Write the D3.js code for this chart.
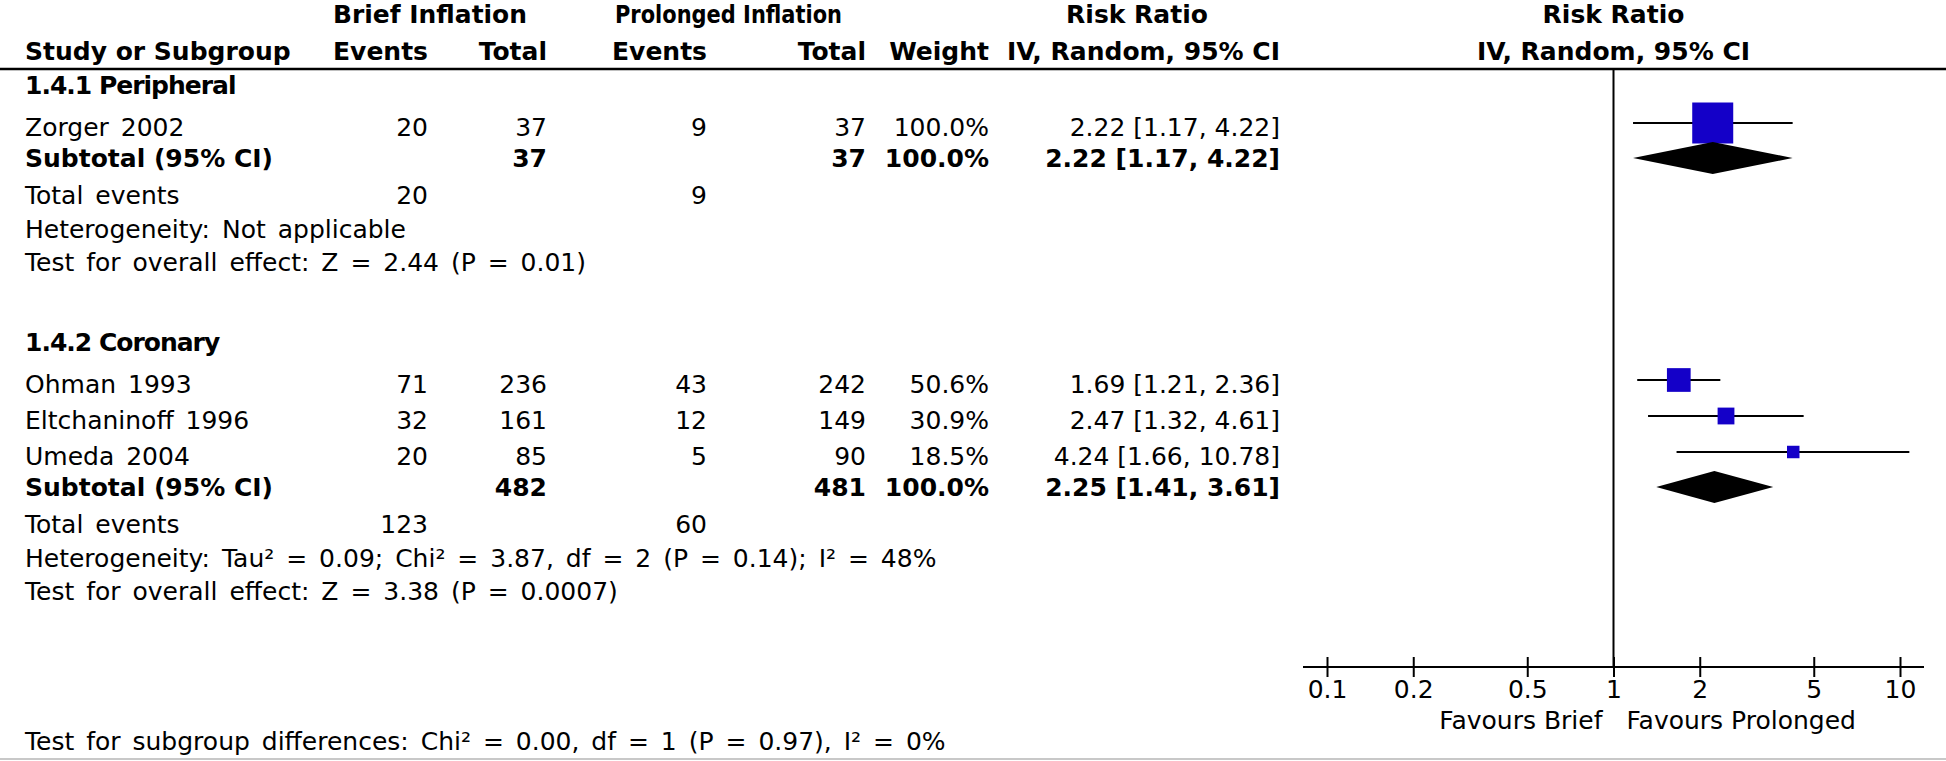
<!DOCTYPE html>
<html>
<head>
<meta charset="utf-8">
<script src="https://cdn.jsdelivr.net/npm/d3@7"></script>
<style>
  body { margin: 0; background: #fff; }
  svg text { font-family: "DejaVu Sans", sans-serif; font-size: 25px; fill: #000; }
  svg text.b { font-weight: bold; }
  svg text.w { word-spacing: 4px; }
</style>
</head>
<body>
<svg id="chart" width="1946" height="761"></svg>
<script>
// studies
const studyNames = ['Zorger 2002', 'Ohman 1993', 'Eltchaninoff 1996', 'Umeda 2004'];
const studyGroup = [0, 1, 1, 1];
const briefEvents = [20, 71, 32, 20];
const briefTotal = [37, 236, 161, 85];
const prolEvents = [9, 43, 12, 5];
const prolTotal = [37, 242, 149, 90];
const weights = [100.0, 50.6, 30.9, 18.5];
const rr = [2.22, 1.69, 2.47, 4.24];
const rrLow = [1.17, 1.21, 1.32, 1.66];
const rrHigh = [4.22, 2.36, 4.61, 10.78];

// subgroups
const groupNames = ['1.4.1 Peripheral', '1.4.2 Coronary'];
const groupBriefEvents = [20, 123];
const groupBriefTotal = [37, 482];
const groupProlEvents = [9, 60];
const groupProlTotal = [37, 481];
const groupWeight = [100.0, 100.0];
const groupRR = [2.22, 2.25];
const groupLow = [1.17, 1.41];
const groupHigh = [4.22, 3.61];
const groupHet = [
  'Heterogeneity: Not applicable',
  'Heterogeneity: Tau² = 0.09; Chi² = 3.87, df = 2 (P = 0.14); I² = 48%'
];
const groupTest = [
  'Test for overall effect: Z = 2.44 (P = 0.01)',
  'Test for overall effect: Z = 3.38 (P = 0.0007)'
];
const subgroupTest = 'Test for subgroup differences: Chi² = 0.00, df = 1 (P = 0.97), I² = 0%';

const axisTicks = [0.1, 0.2, 0.5, 1, 2, 5, 10];
const favours = ['Favours Brief', 'Favours Prolonged'];

const svg = d3.select('#chart');
const x = d3.scaleLog().domain([0.1, 10]).range([1327, 1900]);
const boxSize = d3.scaleLinear().domain([0, 100]).range([6, 41]);
const fmtRR = d3.format('.2f');
const fmtW = d => d3.format('.1f')(d) + '%';
const ciText = (m, l, h) => `${fmtRR(m)} [${fmtRR(l)}, ${fmtRR(h)}]`;

// column anchors (right edges for numbers)
const col = { study: 25, bEv: 428, bTot: 547, pEv: 707, pTot: 866, wt: 989, ci: 1280 };
const headY = 69;
const axisY = 667;

function txt(px, py, s, anchor, cls) {
  return svg.append('text')
    .attr('x', px).attr('y', py)
    .attr('text-anchor', anchor || 'start')
    .attr('class', cls || null)
    .text(s);
}

// header
txt(333, 23, 'Brief Inflation', 'start', 'b')
  .attr('textLength', 194).attr('lengthAdjust', 'spacingAndGlyphs');
txt(615, 23, 'Prolonged Inflation', 'start', 'b')
  .attr('textLength', 227).attr('lengthAdjust', 'spacingAndGlyphs');
txt(col.ci - 143, 23, 'Risk Ratio', 'middle', 'b');
txt(x(1), 23, 'Risk Ratio', 'middle', 'b');
txt(col.study, 60, 'Study or Subgroup', 'start', 'b');
txt(col.bEv, 60, 'Events', 'end', 'b');
txt(col.bTot, 60, 'Total', 'end', 'b');
txt(col.pEv, 60, 'Events', 'end', 'b');
txt(col.pTot, 60, 'Total', 'end', 'b');
txt(col.wt, 60, 'Weight', 'end', 'b');
txt(col.ci, 60, 'IV, Random, 95% CI', 'end', 'b');
txt(x(1), 60, 'IV, Random, 95% CI', 'middle', 'b');

svg.append('line')
  .attr('x1', 0).attr('x2', 1946)
  .attr('y1', headY).attr('y2', headY)
  .attr('stroke', '#000').attr('stroke-width', 2.5);

// row layout
const rows = [];
let y = 94;
groupNames.forEach((g, gi) => {
  rows.push({ type: 'heading', y, g: gi });
  studyGroup.forEach((sg, i) => {
    if (sg !== gi) return;
    y += rows[rows.length - 1].type === 'heading' ? 42 : 36;
    rows.push({ type: 'study', y, i });
  });
  y += 31; rows.push({ type: 'subtotal', y, g: gi });
  y += 37; rows.push({ type: 'events', y, g: gi });
  y += 33.5; rows.push({ type: 'het', y, g: gi });
  y += 33.5; rows.push({ type: 'test', y, g: gi });
  y += 80;
});

rows.forEach(r => {
  if (r.type === 'heading') {
    txt(col.study, r.y, groupNames[r.g], 'start', 'b')
      .style('letter-spacing', '-1px');
  } else if (r.type === 'study') {
    const i = r.i;
    txt(col.study, r.y, studyNames[i], 'start', 'w');
    txt(col.bEv, r.y, briefEvents[i], 'end');
    txt(col.bTot, r.y, briefTotal[i], 'end');
    txt(col.pEv, r.y, prolEvents[i], 'end');
    txt(col.pTot, r.y, prolTotal[i], 'end');
    txt(col.wt, r.y, fmtW(weights[i]), 'end');
    txt(col.ci, r.y, ciText(rr[i], rrLow[i], rrHigh[i]), 'end');
    const cy = r.y - 13;
    svg.append('line')
      .attr('x1', x(rrLow[i])).attr('x2', x(rrHigh[i]))
      .attr('y1', cy).attr('y2', cy)
      .attr('stroke', '#000').attr('stroke-width', 2);
    const s = boxSize(weights[i]);
    svg.append('rect')
      .attr('x', x(rr[i]) - s / 2).attr('y', cy - s / 2)
      .attr('width', s).attr('height', s)
      .attr('fill', '#1400c8');
  } else if (r.type === 'subtotal') {
    const g = r.g;
    txt(col.study, r.y, 'Subtotal (95% CI)', 'start', 'b');
    txt(col.bTot, r.y, groupBriefTotal[g], 'end', 'b');
    txt(col.pTot, r.y, groupProlTotal[g], 'end', 'b');
    txt(col.wt, r.y, fmtW(groupWeight[g]), 'end', 'b');
    txt(col.ci, r.y, ciText(groupRR[g], groupLow[g], groupHigh[g]), 'end', 'b');
    const cy = r.y - 9;
    const pts = [[x(groupLow[g]), cy], [x(groupRR[g]), cy - 16], [x(groupHigh[g]), cy], [x(groupRR[g]), cy + 16]];
    svg.append('path')
      .attr('d', d3.line()(pts) + 'Z')
      .attr('fill', '#000');
  } else if (r.type === 'events') {
    txt(col.study, r.y, 'Total events', 'start', 'w');
    txt(col.bEv, r.y, groupBriefEvents[r.g], 'end');
    txt(col.pEv, r.y, groupProlEvents[r.g], 'end');
  } else if (r.type === 'het') {
    txt(col.study, r.y, groupHet[r.g], 'start', 'w');
  } else if (r.type === 'test') {
    txt(col.study, r.y, groupTest[r.g], 'start', 'w');
  }
});

// null line
svg.append('line')
  .attr('x1', x(1)).attr('x2', x(1))
  .attr('y1', headY).attr('y2', axisY)
  .attr('stroke', '#000').attr('stroke-width', 2);

// axis
const axis = svg.append('g')
  .attr('transform', `translate(0,${axisY})`)
  .call(d3.axisBottom(x).tickValues(axisTicks).tickFormat(d3.format('~g')).tickSizeOuter(0));
axis.attr('font-family', null).attr('font-size', null);
axis.select('.domain').remove();
axis.append('line')
  .attr('x1', x(0.1) - 24).attr('x2', x(10) + 24)
  .attr('stroke', '#000').attr('stroke-width', 2);
axis.selectAll('.tick line').attr('y1', -10).attr('y2', 10).attr('stroke-width', 2);
axis.selectAll('.tick text').attr('dy', null).attr('y', 31);

txt(x(1) - 11, axisY + 62, favours[0], 'end');
txt(x(1) + 13, axisY + 62, favours[1], 'start');

txt(col.study, 750, subgroupTest, 'start', 'w');

svg.append('line')
  .attr('x1', 0).attr('x2', 1946)
  .attr('y1', 759).attr('y2', 759)
  .attr('stroke', '#c8c8c8').attr('stroke-width', 2);
</script>
</body>
</html>
